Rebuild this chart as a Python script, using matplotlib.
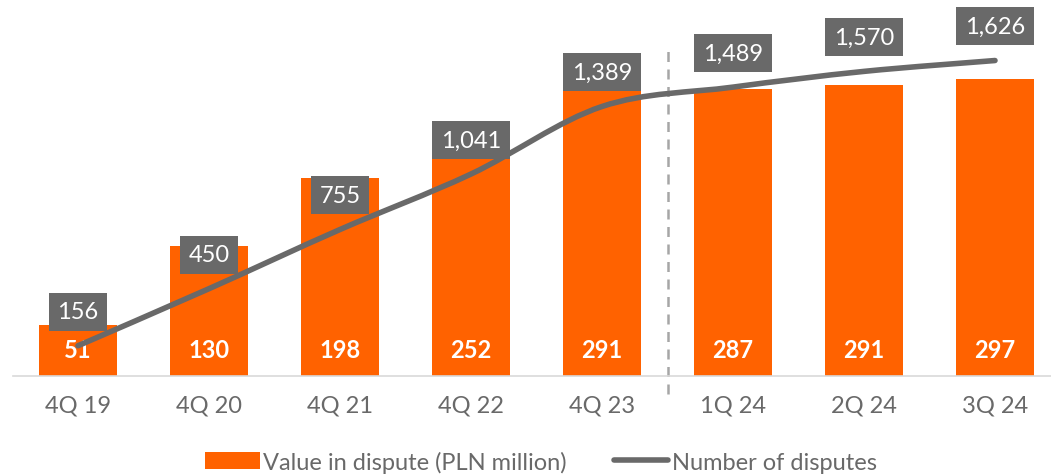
import numpy as np
import matplotlib.pyplot as plt
from matplotlib.path import Path
from matplotlib.patches import PathPatch, Patch
from matplotlib.lines import Line2D

quarters = ['4Q 19', '4Q 20', '4Q 21', '4Q 22', '4Q 23', '1Q 24', '2Q 24', '3Q 24']
value_in_dispute = [51, 130, 198, 252, 291, 287, 291, 297]
number_of_disputes = [156, 450, 755, 1041, 1389, 1489, 1570, 1626]

orange = '#FF6200'
grey = '#696969'
text_grey = '#696969'

plt.rcParams['font.family'] = ['Lato', 'DejaVu Sans']

fig = plt.figure(figsize=(10.51, 4.77), dpi=100)
ax = fig.add_axes([12.5 / 1051, 100 / 477, 1048 / 1051, 357 / 477])
ax2 = ax.twinx()

x = np.arange(len(quarters))

# bars - value in dispute
bars = ax.bar(x, value_in_dispute, width=0.6, color=orange, zorder=2)
ax.set_ylim(0, 357)
ax.set_xlim(-0.5, len(quarters) - 0.5)
for xi, v in zip(x, value_in_dispute):
    ax.text(xi, 26, f'{v}', ha='center', va='center', color='white',
            fontsize=17, fontweight='bold', zorder=3)

# smoothed line - number of disputes (catmull-rom drawn as bezier curves)
ax2.set_ylim(0, 1840)
pts = np.column_stack([x, number_of_disputes]).astype(float)
verts = [tuple(pts[0])]
codes = [Path.MOVETO]
for i in range(len(pts) - 1):
    p0 = pts[i - 1] if i > 0 else pts[i]
    p1 = pts[i]
    p2 = pts[i + 1]
    p3 = pts[i + 2] if i + 2 < len(pts) else pts[i + 1]
    c1 = p1 + (p2 - p0) / 6
    c2 = p2 - (p3 - p1) / 6
    verts += [tuple(c1), tuple(c2), tuple(p2)]
    codes += [Path.CURVE4] * 3
ax2.add_patch(PathPatch(Path(verts, codes), facecolor='none', edgecolor=grey,
                        lw=4, capstyle='round', zorder=4))

for xi, n in zip(x, number_of_disputes):
    ax2.annotate(f'{n:,}', (xi, n), xytext=(0, 24.5), textcoords='offset points',
                 ha='center', va='center', color='white', fontsize=17,
                 zorder=5,
                 bbox=dict(boxstyle='square,pad=0.36', fc=grey, ec='none'))

# dashed separator between 4Q23 and 1Q24
ax.plot([4.5, 4.5], [-18, 327], ls=(0, (4, 3)), color='#a6a6a6', lw=1.8,
        clip_on=False, zorder=1)

for a in (ax, ax2):
    for s in a.spines.values():
        s.set_visible(False)
    a.set_yticks([])
ax.spines['bottom'].set_visible(True)
ax.spines['bottom'].set_color('#d9d9d9')
ax.spines['bottom'].set_linewidth(1.2)
ax.set_xticks(x)
ax.set_xticklabels(quarters)
ax.tick_params(axis='x', length=0, pad=13, labelsize=17, labelcolor=text_grey)

handles = [Patch(facecolor=orange, label='Value in dispute (PLN million)'),
           Line2D([0], [0], color=grey, lw=4, solid_capstyle='round',
                  label='Number of disputes')]
fig.legend(handles=handles, loc='center', bbox_to_anchor=(0.515, 0.03),
           ncol=2, frameon=False, fontsize=17, labelcolor=text_grey,
           handlelength=2.3, handleheight=0.7, handletextpad=0.15,
           columnspacing=2.0)

fig.savefig('out.png', dpi=100)
